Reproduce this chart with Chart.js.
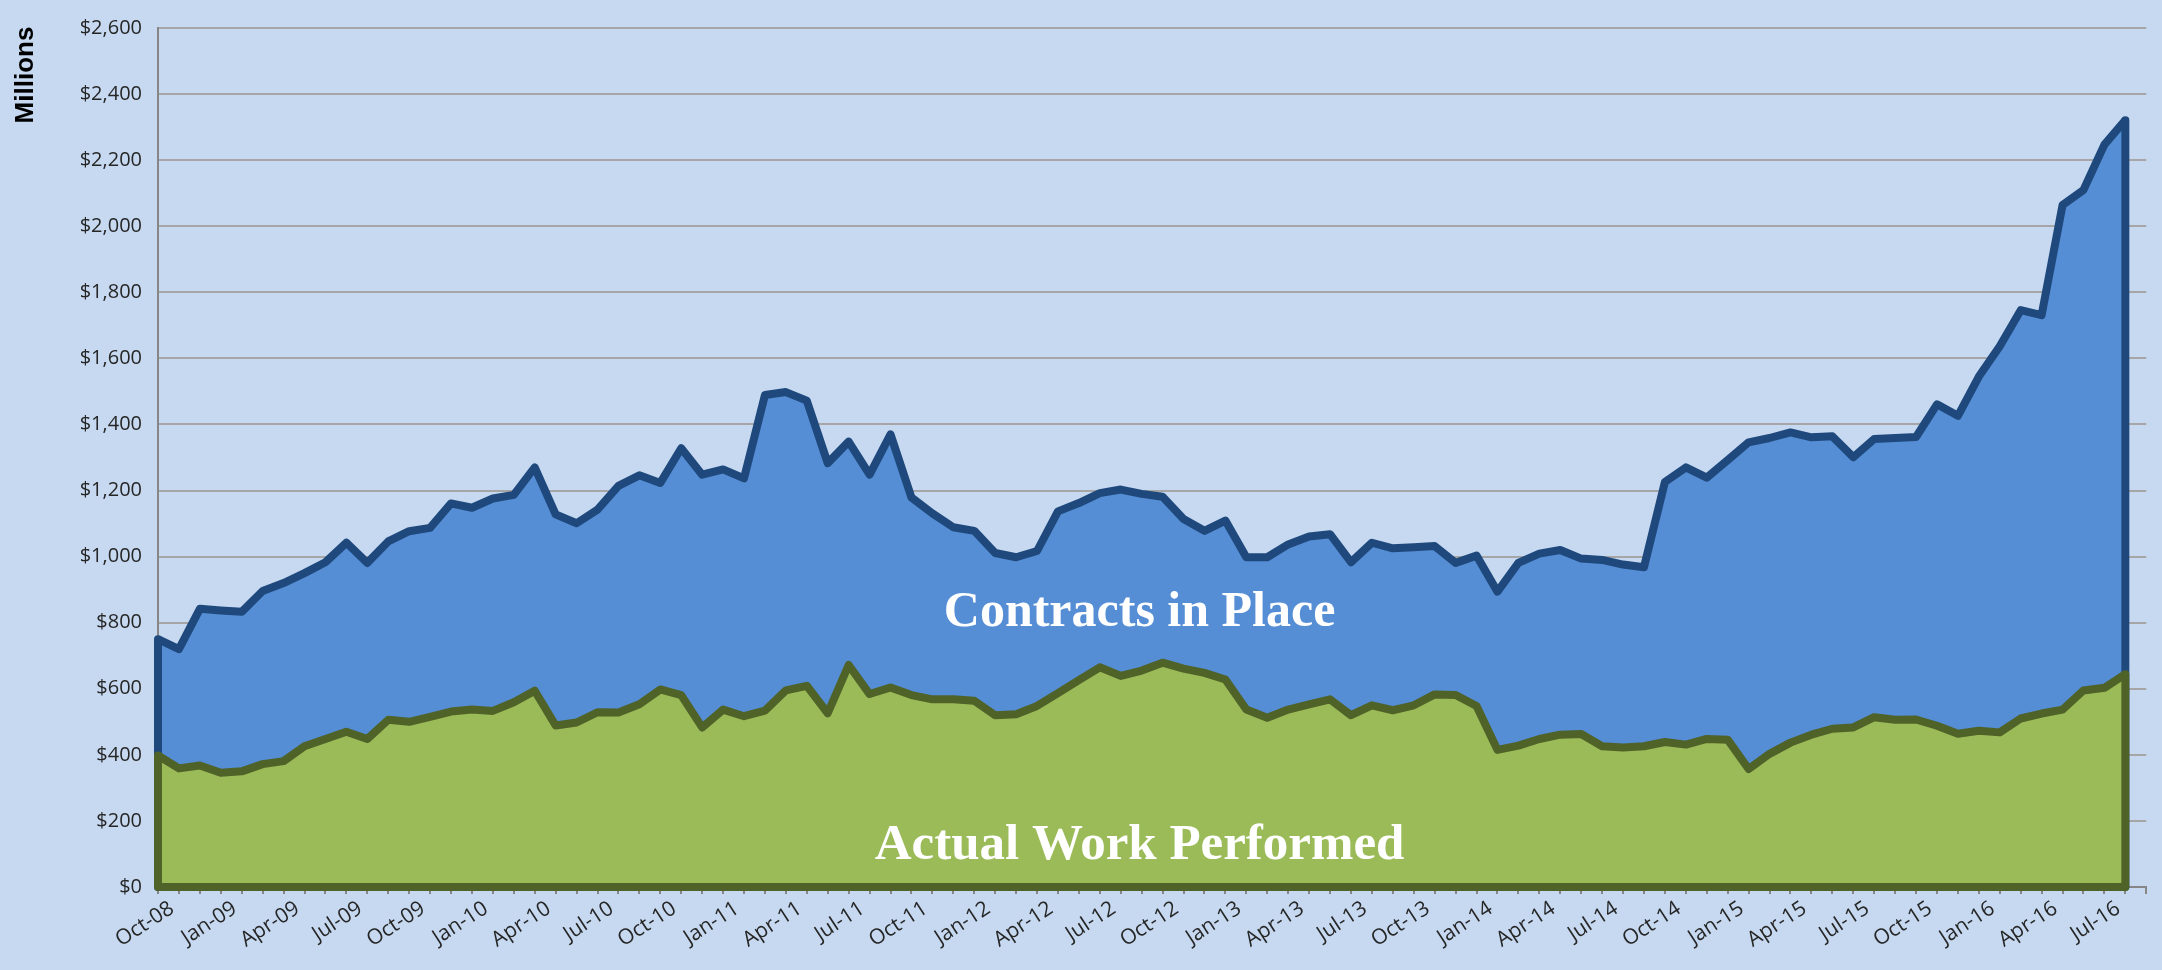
<!DOCTYPE html>
<html>
<head>
<meta charset="utf-8">
<script src="https://cdn.jsdelivr.net/npm/chart.js@4.4.1/dist/chart.umd.min.js"></script>
<style>
    html, body { margin: 0; padding: 0; background: #C6D9F1; }
    #wrap { width: 2162px; height: 970px; position: relative; }
</style>
</head>
<body>
<div id="wrap"><canvas id="chart"></canvas></div>
<script>
// 月份（最后一个 Sep-16 没有数据，只用来让坐标轴多出一格）
const months = [
    'Oct-08', 'Nov-08', 'Dec-08',
    'Jan-09', 'Feb-09', 'Mar-09', 'Apr-09', 'May-09', 'Jun-09', 'Jul-09', 'Aug-09', 'Sep-09', 'Oct-09', 'Nov-09', 'Dec-09',
    'Jan-10', 'Feb-10', 'Mar-10', 'Apr-10', 'May-10', 'Jun-10', 'Jul-10', 'Aug-10', 'Sep-10', 'Oct-10', 'Nov-10', 'Dec-10',
    'Jan-11', 'Feb-11', 'Mar-11', 'Apr-11', 'May-11', 'Jun-11', 'Jul-11', 'Aug-11', 'Sep-11', 'Oct-11', 'Nov-11', 'Dec-11',
    'Jan-12', 'Feb-12', 'Mar-12', 'Apr-12', 'May-12', 'Jun-12', 'Jul-12', 'Aug-12', 'Sep-12', 'Oct-12', 'Nov-12', 'Dec-12',
    'Jan-13', 'Feb-13', 'Mar-13', 'Apr-13', 'May-13', 'Jun-13', 'Jul-13', 'Aug-13', 'Sep-13', 'Oct-13', 'Nov-13', 'Dec-13',
    'Jan-14', 'Feb-14', 'Mar-14', 'Apr-14', 'May-14', 'Jun-14', 'Jul-14', 'Aug-14', 'Sep-14', 'Oct-14', 'Nov-14', 'Dec-14',
    'Jan-15', 'Feb-15', 'Mar-15', 'Apr-15', 'May-15', 'Jun-15', 'Jul-15', 'Aug-15', 'Sep-15', 'Oct-15', 'Nov-15', 'Dec-15',
    'Jan-16', 'Feb-16', 'Mar-16', 'Apr-16', 'May-16', 'Jun-16', 'Jul-16', 'Aug-16', 'Sep-16'
];

// Contracts in Place (millions)
const contractsInPlace = [
    750, 720, 842,
    837, 833, 896, 920, 950, 983, 1042, 981, 1046, 1077, 1087, 1161,
    1148, 1176, 1187, 1270, 1128, 1101, 1142, 1214, 1246, 1223, 1328, 1248,
    1264, 1237, 1489, 1498, 1472, 1283, 1348, 1248, 1370, 1179, 1131, 1089,
    1078, 1011, 998, 1017, 1137, 1162, 1192, 1203, 1190, 1181, 1114, 1078,
    1109, 998, 998, 1037, 1061, 1068, 983, 1042, 1025, 1028, 1032, 981,
    1003, 894, 981, 1009, 1020, 994, 990, 976, 968, 1226, 1270, 1239,
    1292, 1346, 1359, 1376, 1361, 1364, 1301, 1356, 1359, 1362, 1461, 1426,
    1545, 1637, 1746, 1731, 2064, 2110, 2247, 2321
];

// Actual Work Performed (millions)
const actualWork = [
    398, 359, 368,
    346, 350, 372, 381, 426, 448, 470, 448, 506, 500, 515, 531,
    537, 533, 559, 594, 489, 498, 529, 528, 553, 598, 581, 483,
    537, 517, 534, 595, 609, 526, 672, 584, 604, 581, 568, 568,
    564, 520, 523, 548, 587, 626, 665, 639, 655, 679, 661, 648,
    628, 537, 512, 537, 553, 568, 520, 550, 535, 550, 583, 581,
    548, 415, 428, 448, 461, 463, 426, 422, 426, 439, 431, 448,
    446, 357, 403, 437, 461, 479, 483, 514, 506, 507, 488, 464,
    473, 468, 510, 525, 537, 595, 603, 644
];

const yMax = 2600;
const yStep = 200;

// Excel 的面积图四周都有边框，Chart.js 只画上沿，这里补上左右和底边
const areaEdges = {
    id: 'areaEdges',
    afterDatasetDraw(chart, args) {
        const ds = chart.data.datasets[args.index];
        const pts = args.meta.data;
        if (!pts.length) return;
        const first = pts[0];
        const last = pts[pts.length - 1];
        const y0 = chart.scales.y.getPixelForValue(0);
        const ctx = chart.ctx;
        ctx.save();
        ctx.strokeStyle = ds.borderColor;
        ctx.lineWidth = ds.borderWidth;
        ctx.lineJoin = 'round';
        ctx.lineCap = 'round';
        ctx.beginPath();
        ctx.moveTo(first.x, first.y);
        ctx.lineTo(first.x, y0);
        ctx.lineTo(last.x, y0);
        ctx.lineTo(last.x, last.y);
        ctx.stroke();
        ctx.restore();
    }
};

// 区域内的文字和 "Millions"
const areaLabels = {
    id: 'areaLabels',
    afterDatasetsDraw(chart) {
        const ctx = chart.ctx;
        const x = chart.scales.x;
        const y = chart.scales.y;
        ctx.save();
        ctx.fillStyle = '#FFFFFF';
        ctx.textAlign = 'center';
        ctx.textBaseline = 'middle';
        ctx.font = 'bold 50px "Liberation Serif", serif';
        ctx.fillText('Contracts in Place', x.getPixelForValue(46.9), y.getPixelForValue(829));
        ctx.font = 'bold 51px "Liberation Serif", serif';
        ctx.fillText('Actual Work Performed', x.getPixelForValue(46.9), y.getPixelForValue(126));

        ctx.fillStyle = '#000000';
        ctx.font = 'bold 26px "Liberation Sans Narrow", "Liberation Sans", sans-serif';
        ctx.translate(26, 75);
        ctx.rotate(-Math.PI / 2);
        ctx.fillText('Millions', 0, 0);
        ctx.restore();
    }
};

const ctx = document.getElementById('chart').getContext('2d');
const chart = new Chart(ctx, {
    type: 'line',
    data: {
        labels: months,
        datasets: [
            {
                label: 'Actual Work Performed',
                data: actualWork,
                order: 1,
                backgroundColor: '#9BBB59',
                borderColor: '#4F6228',
                borderWidth: 8,
                borderJoinStyle: 'round',
                fill: 'origin',
                pointRadius: 0,
                tension: 0
            },
            {
                label: 'Contracts in Place',
                data: contractsInPlace,
                order: 2,
                backgroundColor: '#558ED5',
                borderColor: '#1F497D',
                borderWidth: 8,
                borderJoinStyle: 'round',
                fill: 'origin',
                pointRadius: 0,
                tension: 0
            }
        ]
    },
    options: {
        responsive: true,
        maintainAspectRatio: false,
        animation: false,
        layout: {
            padding: { top: 19, right: 2, left: 0, bottom: 0 }
        },
        plugins: {
            legend: { display: false },
            tooltip: { enabled: false }
        },
        scales: {
            x: {
                type: 'category',
                offset: false,
                afterFit: (scale) => { scale.height = 83; },
                ticks: {
                    autoSkip: false,
                    maxRotation: 33,
                    minRotation: 33,
                    padding: 2,
                    labelOffset: 14,
                    color: '#262626',
                    font: { family: '"Open Sans", sans-serif', size: 21 },
                    callback: (value, index) => index % 3 === 0 ? months[index] : ''
                },
                grid: {
                    drawOnChartArea: false,
                    drawTicks: true,
                    tickLength: 7,
                    color: '#868686',
                    lineWidth: 2
                },
                border: { color: '#868686', width: 2 }
            },
            y: {
                min: 0,
                max: yMax,
                afterFit: (scale) => { scale.width = 158; },
                ticks: {
                    stepSize: yStep,
                    padding: 16,
                    color: '#262626',
                    font: { family: '"Open Sans", sans-serif', size: 20 },
                    callback: (value) => '$' + value.toLocaleString('en-US')
                },
                grid: {
                    color: '#A6A6A6',
                    lineWidth: 2,
                    drawTicks: false
                },
                border: { color: '#868686', width: 2 }
            }
        }
    },
    plugins: [areaEdges, areaLabels]
});
</script>
</body>
</html>
